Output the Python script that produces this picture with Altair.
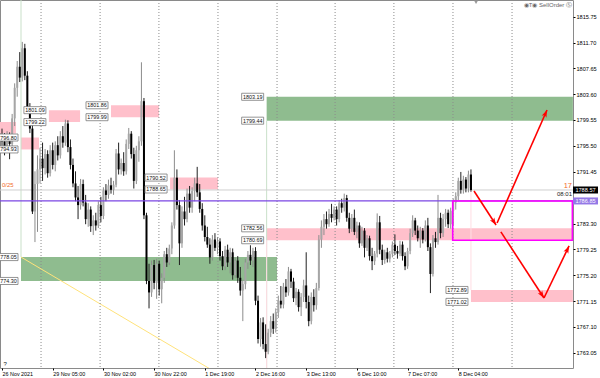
import math
import altair as alt
import pandas as pd

# ---------------- data ----------------
bars = list(range(186))
opens = [1797.0, 1796.2, 1795.0, 1797.2, 1795.8, 1799.8, 1804.6, 1807.9, 1806.2, 1810.8,
         1806.5, 1801.5, 1798.2, 1785.2, 1789.5, 1791.8, 1793.5, 1792.0, 1794.2, 1791.2,
         1794.8, 1792.5, 1795.6, 1794.0, 1797.0, 1796.0, 1799.0, 1795.3, 1792.5, 1789.6,
         1787.4, 1786.2, 1789.5, 1786.6, 1784.0, 1785.5, 1782.9, 1783.8, 1783.0, 1786.2,
         1784.5, 1788.5, 1787.8, 1789.3, 1788.6, 1789.4, 1794.3, 1791.8, 1792.8, 1791.5,
         1795.8, 1797.4, 1794.2, 1790.0, 1794.8, 1796.2, 1802.5, 1784.6, 1774.3, 1772.5,
         1776.8, 1774.0, 1777.0, 1773.0, 1774.8, 1778.5, 1777.2, 1779.4, 1783.0, 1790.5,
         1786.2, 1780.2, 1785.2, 1784.0, 1788.0, 1785.8, 1788.4, 1789.6, 1788.2, 1785.6,
         1783.0, 1781.2, 1780.0, 1778.0, 1780.8, 1779.5, 1780.5, 1778.2, 1776.6, 1779.2,
         1777.2, 1778.8, 1775.2, 1777.5, 1774.8, 1772.8, 1773.8, 1777.2, 1778.4, 1777.5,
         1779.0, 1771.2, 1765.2, 1767.8, 1764.4, 1763.2, 1766.2, 1768.0, 1766.8, 1769.4,
         1771.2, 1770.6, 1773.4, 1772.5, 1775.8, 1774.2, 1771.6, 1772.6, 1770.2, 1771.8,
         1773.6, 1771.0, 1768.0, 1771.8, 1770.5, 1773.2, 1780.8, 1782.8, 1784.0, 1783.2,
         1784.8, 1784.2, 1785.5, 1784.0, 1786.5, 1785.8, 1787.3, 1784.2, 1782.5, 1784.2,
         1782.0, 1783.0, 1780.2, 1782.2, 1779.5, 1781.0, 1778.2, 1777.4, 1778.6, 1783.5,
         1779.2, 1777.6, 1778.8, 1777.8, 1778.5, 1780.0, 1779.0, 1778.6, 1780.0, 1778.2,
         1776.6, 1779.0, 1781.8, 1783.8, 1782.2, 1781.0, 1782.2, 1780.8, 1783.0, 1779.6,
         1775.4, 1781.0, 1780.4, 1784.2, 1781.8, 1784.0, 1785.0, 1783.2, 1785.3, 1786.6,
         1787.6, 1790.0, 1788.6, 1790.2, 1788.8, 1791.0]
highs = [1798.2, 1797.5, 1797.8, 1797.6, 1800.5, 1805.3, 1808.8, 1810.2, 1811.8, 1811.5,
         1807.2, 1802.2, 1799.0, 1791.5, 1794.0, 1795.2, 1796.0, 1795.0, 1794.8, 1795.6,
         1796.0, 1796.2, 1797.0, 1797.8, 1798.6, 1799.6, 1799.5, 1796.5, 1793.5, 1791.5,
         1789.2, 1790.3, 1790.2, 1787.8, 1786.5, 1786.0, 1784.6, 1785.0, 1786.8, 1787.5,
         1789.0, 1789.5, 1790.2, 1790.5, 1790.0, 1795.0, 1796.0, 1793.5, 1794.5, 1796.5,
         1798.3, 1797.8, 1795.2, 1795.5, 1797.0, 1808.6, 1803.0, 1785.0, 1777.0, 1777.5,
         1777.6, 1777.8, 1777.5, 1775.5, 1779.0, 1779.5, 1780.0, 1783.5, 1794.8, 1791.8,
         1787.0, 1786.0, 1787.5, 1788.8, 1789.2, 1789.0, 1790.5, 1792.2, 1789.5, 1786.5,
         1784.6, 1782.8, 1781.0, 1781.5, 1781.8, 1781.2, 1781.0, 1779.0, 1779.8, 1780.0,
         1779.5, 1779.4, 1778.0, 1778.2, 1776.5, 1774.5, 1777.8, 1779.0, 1779.9, 1779.5,
         1779.6, 1772.0, 1768.5, 1768.6, 1767.5, 1766.8, 1768.8, 1769.2, 1770.0, 1772.0,
         1773.5, 1774.0, 1774.6, 1776.5, 1776.2, 1774.8, 1773.2, 1773.0, 1772.4, 1774.5,
         1778.8, 1772.0, 1772.5, 1773.0, 1774.0, 1781.5, 1783.8, 1784.8, 1785.2, 1785.6,
         1786.4, 1786.0, 1786.0, 1787.0, 1787.2, 1788.0, 1787.8, 1785.0, 1784.8, 1785.5,
         1783.6, 1783.5, 1782.8, 1782.6, 1781.5, 1781.4, 1779.5, 1779.0, 1784.9, 1784.5,
         1780.0, 1779.2, 1779.5, 1779.0, 1780.5, 1781.6, 1779.8, 1780.6, 1780.5, 1778.8,
         1779.5, 1782.5, 1784.6, 1784.2, 1783.0, 1782.8, 1782.6, 1783.8, 1784.2, 1780.2,
         1781.5, 1782.0, 1787.8, 1785.0, 1784.8, 1785.6, 1785.5, 1785.8, 1787.2, 1788.2,
         1790.5, 1791.4, 1790.8, 1790.6, 1791.6, 1791.8]
lows = [1795.5, 1794.0, 1794.6, 1793.4, 1795.2, 1798.6, 1803.2, 1805.5, 1805.6, 1805.8,
        1800.8, 1797.5, 1784.8, 1780.4, 1782.0, 1789.6, 1790.0, 1791.0, 1790.5, 1790.7,
        1791.8, 1791.5, 1793.2, 1793.5, 1795.2, 1795.5, 1794.5, 1791.8, 1789.0, 1786.8,
        1784.0, 1785.5, 1786.0, 1783.2, 1782.8, 1782.0, 1781.5, 1782.2, 1782.6, 1783.5,
        1784.0, 1786.8, 1787.2, 1788.0, 1787.8, 1789.0, 1791.0, 1791.0, 1790.8, 1791.0,
        1795.0, 1793.5, 1788.8, 1789.5, 1793.0, 1795.5, 1784.0, 1773.8, 1770.0, 1771.8,
        1773.0, 1771.5, 1772.0, 1770.8, 1774.0, 1776.5, 1776.8, 1778.5, 1782.5, 1785.5,
        1776.8, 1779.5, 1783.0, 1783.5, 1785.0, 1785.0, 1786.8, 1787.5, 1785.0, 1782.2,
        1780.5, 1779.5, 1777.0, 1777.5, 1779.0, 1778.5, 1777.5, 1776.0, 1776.0, 1776.5,
        1775.5, 1774.5, 1774.8, 1774.0, 1772.0, 1768.0, 1773.0, 1776.2, 1776.8, 1776.5,
        1770.5, 1764.5, 1764.0, 1763.6, 1762.2, 1762.8, 1765.5, 1766.0, 1766.2, 1768.5,
        1770.0, 1770.0, 1771.8, 1772.0, 1773.2, 1771.0, 1770.5, 1769.5, 1768.8, 1771.0,
        1770.0, 1767.2, 1767.5, 1769.5, 1769.8, 1772.8, 1779.5, 1781.5, 1782.5, 1782.8,
        1783.5, 1783.8, 1783.0, 1783.5, 1785.0, 1785.2, 1783.6, 1781.8, 1782.0, 1781.5,
        1781.0, 1779.5, 1779.8, 1778.0, 1779.0, 1777.5, 1776.0, 1776.8, 1778.0, 1778.5,
        1776.8, 1777.0, 1777.2, 1777.2, 1778.0, 1778.4, 1777.8, 1778.2, 1777.5, 1776.0,
        1776.2, 1778.5, 1781.2, 1781.5, 1780.5, 1779.5, 1780.2, 1780.5, 1779.0, 1772.4,
        1775.0, 1779.5, 1780.0, 1781.0, 1781.2, 1782.8, 1782.6, 1782.5, 1783.0, 1785.5,
        1787.0, 1788.0, 1788.0, 1788.2, 1788.2, 1788.3]
closes = [1796.2, 1795.0, 1797.2, 1795.8, 1799.8, 1804.6, 1807.9, 1806.2, 1810.8, 1806.5,
          1801.5, 1798.2, 1785.2, 1789.5, 1791.8, 1793.5, 1792.0, 1794.2, 1791.2, 1794.8,
          1792.5, 1795.6, 1794.0, 1797.0, 1796.0, 1799.0, 1795.3, 1792.5, 1789.6, 1787.4,
          1786.2, 1789.5, 1786.6, 1784.0, 1785.5, 1782.9, 1783.8, 1783.0, 1786.2, 1784.5,
          1788.5, 1787.8, 1789.3, 1788.6, 1789.4, 1794.3, 1791.8, 1792.8, 1791.5, 1795.8,
          1797.4, 1794.2, 1790.0, 1794.8, 1796.2, 1802.5, 1784.6, 1774.3, 1772.5, 1776.8,
          1774.0, 1777.0, 1773.0, 1774.8, 1778.5, 1777.2, 1779.4, 1783.0, 1790.5, 1786.2,
          1780.2, 1785.2, 1784.0, 1788.0, 1785.8, 1788.4, 1789.6, 1788.2, 1785.6, 1783.0,
          1781.2, 1780.0, 1778.0, 1780.8, 1779.5, 1780.5, 1778.2, 1776.6, 1779.2, 1777.2,
          1778.8, 1775.2, 1777.5, 1774.8, 1772.8, 1773.8, 1777.2, 1778.4, 1777.5, 1779.0,
          1771.2, 1765.2, 1767.8, 1764.4, 1763.2, 1766.2, 1768.0, 1766.8, 1769.4, 1771.2,
          1770.6, 1773.4, 1772.5, 1775.8, 1774.2, 1771.6, 1772.6, 1770.2, 1771.8, 1773.6,
          1771.0, 1768.0, 1771.8, 1770.5, 1773.2, 1780.8, 1782.8, 1784.0, 1783.2, 1784.8,
          1784.2, 1785.5, 1784.0, 1786.5, 1785.8, 1787.3, 1784.2, 1782.5, 1784.2, 1782.0,
          1783.0, 1780.2, 1782.2, 1779.5, 1781.0, 1778.2, 1777.4, 1778.6, 1783.5, 1779.2,
          1777.6, 1778.8, 1777.8, 1778.5, 1780.0, 1779.0, 1778.6, 1780.0, 1778.2, 1776.6,
          1779.0, 1781.8, 1783.8, 1782.2, 1781.0, 1782.2, 1780.8, 1783.0, 1779.6, 1775.4,
          1781.0, 1780.4, 1784.2, 1781.8, 1784.0, 1785.0, 1783.2, 1785.3, 1786.6, 1787.6,
          1790.0, 1788.6, 1790.2, 1788.8, 1791.0, 1788.57]

time_label_bars = [0, 20, 40, 60, 80, 100, 120, 140, 160, 180]
time_labels = ["26 Nov 2021", "29 Nov 05:00", "30 Nov 02:00", "30 Nov 22:00", "1 Dec 19:00",
               "2 Dec 16:00", "3 Dec 13:00", "6 Dec 10:00", "7 Dec 07:00", "8 Dec 04:00"]
price_ticks = [1815.75, 1811.70, 1807.65, 1803.60, 1799.55, 1795.50, 1791.45,
               1783.30, 1779.25, 1775.20, 1771.15, 1767.10, 1763.05]
grid_bars = [15.4, 38.7, 61.9, 85.2, 108.5, 131.4, 154.6, 177.9, 201.2]

# supply / demand zones
pink_start = [-0.8, 7.5, 18.5, 43.0, 66.3, 104.4, 185.0]
pink_end = [5.5, 14.6, 30.8, 61.9, 85.2, 225.2, 225.2]
pink_top = [1799.22, 1796.80, 1801.09, 1801.86, 1790.52, 1782.56, 1772.89]
pink_bottom = [1797.45, 1794.93, 1799.22, 1799.99, 1788.65, 1780.69, 1771.02]
green_start = [7.5, 104.4]
green_end = [108.5, 225.2]
green_top = [1778.05, 1803.19]
green_bottom = [1774.30, 1799.44]

# price tags left of the zones
tag_bar = [7.5, 7.5, 18.5, 18.5, 43.0, 43.0, 66.3, 66.3, 104.4, 104.4, 185.0, 185.0,
           7.5, 7.5, 104.4, 104.4]
tag_price = [1796.80, 1794.93, 1801.09, 1799.22, 1801.86, 1799.99, 1790.52, 1788.65,
             1782.56, 1780.69, 1772.89, 1771.02, 1778.05, 1774.30, 1803.19, 1799.44]

# forecast arrows
arrow_k1 = [186.2, 195.3, 196.8, 213.8]
arrow_p1 = [1788.41, 1783.39, 1782.00, 1771.63]
arrow_k2 = [194.9, 215.0, 213.8, 223.7]
arrow_p2 = [1783.08, 1801.12, 1771.63, 1779.79]

bid_price = 1788.57
line_price = 1786.85
box_k = [177.8, 225.0]
box_p = [1786.85, 1780.69]

# ---------------- scales ----------------
X_DOMAIN = [-0.79, 225.25]
Y_DOMAIN = [1760.65, 1818.37]
PLOT_W, PLOT_H = 573, 368
PX_BAR = PLOT_W / (X_DOMAIN[1] - X_DOMAIN[0])
PX_PRICE = PLOT_H / (Y_DOMAIN[1] - Y_DOMAIN[0])
FONT = "Liberation Sans"

xs = alt.Scale(domain=X_DOMAIN, nice=False, zero=False)
ys = alt.Scale(domain=Y_DOMAIN, nice=False, zero=False)
label_expr = " : ".join(f"datum.value == {b} ? '{t}'" for b, t in zip(time_label_bars, time_labels)) + " : ''"
xaxis = alt.Axis(values=time_label_bars, labelExpr=label_expr, grid=False, domain=False,
                 tickSize=2, tickColor="#000", labelFontSize=5.4, labelFont=FONT,
                 labelAlign="left", labelPadding=1, labelColor="#000", title=None,
                 labelFlush=False, labelOverlap=False)
yaxis = alt.Axis(orient="right", values=price_ticks, format=".2f", grid=False, domain=False,
                 tickSize=2, tickColor="#000", labelFontSize=5.6, labelFont=FONT,
                 labelPadding=1, labelColor="#000", title=None, labelOverlap=False,
                 labelFlush=False)


def X(f):
    return alt.X(f, type="quantitative", scale=xs, axis=xaxis)


def Y(f):
    return alt.Y(f, type="quantitative", scale=ys, axis=yaxis)


cdf = pd.DataFrame({"k": bars, "o": opens, "h": highs, "l": lows, "c": closes})
cdf["dir"] = ["up" if c >= o else "down" for o, c in zip(opens, closes)]

pink = pd.DataFrame({"k0": pink_start, "k1": pink_end, "top": pink_top, "bot": pink_bottom})
green = pd.DataFrame({"k0": green_start, "k1": green_end, "top": green_top, "bot": green_bottom})
tags = pd.DataFrame({"k": tag_bar, "p": tag_price, "t": [f"{v:.2f}" for v in tag_price]})

arr = pd.DataFrame({"k1": arrow_k1, "p1": arrow_p1, "k2": arrow_k2, "p2": arrow_p2})
arr["ang"] = [
    (math.degrees(math.atan2((b - a) * PX_BAR, (q - p) * PX_PRICE)) + 360) % 360
    for a, p, b, q in zip(arrow_k1, arrow_p1, arrow_k2, arrow_p2)
]

# ---------------- layers ----------------
zones_p = alt.Chart(pink).mark_rect(color="#ffc0cb", clip=True).encode(
    x=X("k0"), x2="k1", y=Y("top"), y2="bot")
zones_g = alt.Chart(green).mark_rect(color="#8fbc8f", clip=True).encode(
    x=X("k0"), x2="k1", y=Y("top"), y2="bot")

faint = pd.DataFrame({
    "k": [7.5, 104.4, 104.4, 185.0],
    "a": [1818.37, 1799.44, 1780.69, 1788.6],
    "b": [1778.05, 1760.65, 1760.65, 1772.89],
    "col": ["g", "g", "p", "p"],
})
faint_lines = alt.Chart(faint).mark_rule(strokeWidth=1, clip=True).encode(
    x=X("k"), y=Y("a"), y2="b",
    color=alt.Color("col:N", scale=alt.Scale(domain=["g", "p"], range=["#c9e0c9", "#ffdde3"]), legend=None))

yellow = alt.Chart(pd.DataFrame({"k1": [7.5], "p1": [1778.05], "k2": [90.0], "p2": [1758.64]})).mark_rule(
    color="#ffe27a", strokeWidth=1, clip=True).encode(x=X("k1"), y=Y("p1"), x2="k2", y2="p2")

grid = alt.Chart(pd.DataFrame({"k": grid_bars})).mark_rule(
    color="#8c8c8c", strokeWidth=1, strokeDash=[1, 2]).encode(x=X("k"))

bid = alt.Chart(pd.DataFrame({"p": [bid_price]})).mark_rule(color="#cfcfcf", strokeWidth=1).encode(y=Y("p"))

dir_scale = alt.Scale(domain=["up", "down"], range=["#8c8c8c", "#202020"])
body_scale = alt.Scale(domain=["up", "down"], range=["#a6a6a6", "#000000"])
wicks = alt.Chart(cdf).mark_rule(strokeWidth=1).encode(
    x=X("k"), y=Y("l"), y2="h", color=alt.Color("dir:N", scale=dir_scale, legend=None))
bodies = alt.Chart(cdf).mark_rule(strokeWidth=2).encode(
    x=X("k"), y=Y("o"), y2="c", color=alt.Color("dir:N", scale=body_scale, legend=None))

purple = alt.Chart(pd.DataFrame({"p": [line_price]})).mark_rule(color="#7b46e3", strokeWidth=1.2).encode(y=Y("p"))

mag = alt.Chart(pd.DataFrame({"k0": [box_k[0]], "k1": [box_k[1]], "a": [box_p[0]], "b": [box_p[1]]})).mark_rect(
    fill="#ffffff", fillOpacity=0, stroke="#ff00ff", strokeWidth=1.6).encode(
    x=X("k0"), x2="k1", y=Y("a"), y2="b")

arrow_lines = alt.Chart(arr).mark_rule(color="#ff0000", strokeWidth=1.6).encode(
    x=X("k1"), y=Y("p1"), x2="k2", y2="p2")
arrow_heads = alt.Chart(arr).mark_point(
    shape="M0,0L0.75,2.1L0,1.6L-0.75,2.1Z", filled=True, color="#ff0000", opacity=1, size=49).encode(
    x=X("k2"), y=Y("p2"), angle=alt.Angle("ang:Q", scale=None))

tag_boxes = alt.Chart(tags).mark_point(
    shape="M-2,-0.32L0,-0.32L0,0.32L-2,0.32Z", filled=True, fill="#ffffff", stroke="#7a7a7a",
    strokeWidth=0.8, opacity=1, size=484, xOffset=-3, clip=True).encode(x=X("k"), y=Y("p"))
tag_text = alt.Chart(tags).mark_text(
    font=FONT, fontSize=5.4, color="#111111", align="center", baseline="middle", xOffset=-14, clip=True).encode(
    x=X("k"), y=Y("p"), text="t:N")

axis_tags = pd.DataFrame({"k": [225.25, 225.25], "p": [bid_price, line_price],
                          "t": [f"{bid_price:.2f}", f"{line_price:.2f}"], "c": ["bid", "line"]})
axis_boxes = alt.Chart(axis_tags).mark_point(
    shape="M0,-0.28L2,-0.28L2,0.28L0,0.28Z", filled=True, opacity=1, size=625).encode(
    x=X("k"), y=Y("p"),
    color=alt.Color("c:N", scale=alt.Scale(domain=["bid", "line"], range=["#000000", "#9478e6"]), legend=None))
axis_text = alt.Chart(axis_tags).mark_text(
    font=FONT, fontSize=5.6, color="#ffffff", align="center", baseline="middle", xOffset=12.5).encode(
    x=X("k"), y=Y("p"), text="t:N")

notes = pd.DataFrame({
    "k": [0.0, 224.85, 224.85, 224.85, 0.6],
    "p": [1789.33, 1789.2, 1787.92, 1817.6, 1761.2],
    "t": ["0/25", "17", "08:01", "\u25c9T\u25c9 SellOrder \u24c8", "?"],
    "col": ["o", "o", "d", "g", "d"],
    "al": ["left", "right", "right", "right", "left"],
    "fs": [6, 7.5, 6, 6, 6],
})
color_note = alt.Scale(domain=["o", "d", "g"], range=["#f26b2a", "#222222", "#666666"])
note_left = alt.Chart(notes[notes["al"] == "left"]).mark_text(
    font=FONT, align="left", baseline="middle").encode(
    x=X("k"), y=Y("p"), text="t:N", size=alt.Size("fs:Q", scale=None, legend=None),
    color=alt.Color("col:N", scale=color_note, legend=None))
note_right = alt.Chart(notes[notes["al"] == "right"]).mark_text(
    font=FONT, align="right", baseline="middle").encode(
    x=X("k"), y=Y("p"), text="t:N", size=alt.Size("fs:Q", scale=None, legend=None),
    color=alt.Color("col:N", scale=color_note, legend=None))

marker = alt.Chart(pd.DataFrame({"k": [187.0], "p": [1818.0]})).mark_point(
    shape="triangle-down", filled=True, color="#9a9a9a", size=14, opacity=1).encode(x=X("k"), y=Y("p"))

chart = alt.layer(
    zones_p, zones_g, faint_lines, yellow, grid, bid, wicks, bodies, purple, mag,
    arrow_lines, arrow_heads, tag_boxes, tag_text, axis_boxes, axis_text,
    note_left, note_right, marker,
).resolve_scale(color="independent", size="independent").properties(
    width=PLOT_W, height=PLOT_H,
    padding={"left": 0, "top": 0, "right": 27, "bottom": 10},
    autosize=alt.AutoSizeParams(type="none"),
    background="#ffffff",
).configure_view(stroke="#8a8a8a", strokeWidth=1)

chart.save("out.html", embed_options={"renderer": "svg", "actions": False})
